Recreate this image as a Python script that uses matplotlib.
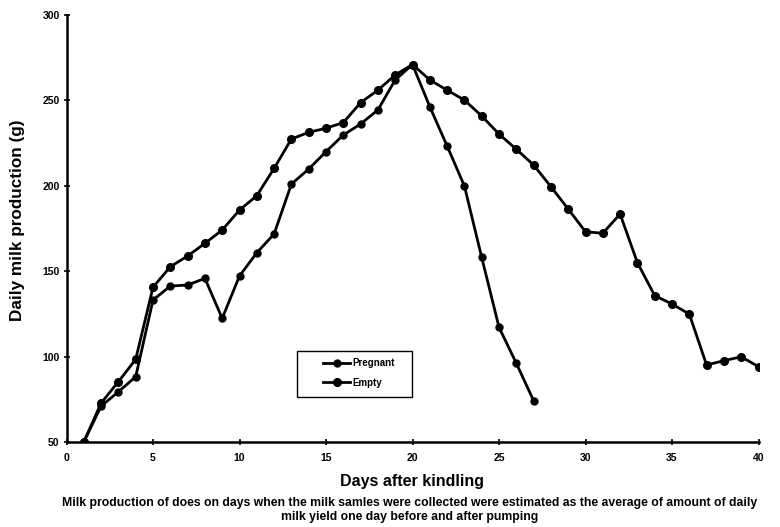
import matplotlib
matplotlib.use("Agg")
import matplotlib.pyplot as plt
from matplotlib.patches import Rectangle

plt.rcParams['font.family'] = ['Liberation Sans', 'DejaVu Sans']

days_pregnant = [1, 2, 3, 4, 5, 6, 7, 8, 9, 10, 11, 12, 13, 14, 15, 16, 17, 18, 19, 20,
                 21, 22, 23, 24, 25, 26, 27]
milk_pregnant = [50, 71, 79.4, 88.2, 133.1, 141.3, 141.9, 145.8, 122.4, 147.2, 160.8, 171.8,
                 201, 209.8, 220, 229.7, 236.2, 244.4, 262, 271,
                 246.3, 223.3, 199.9, 158.1, 117.2, 96.1, 74.2]

days_empty = list(range(1, 41))
milk_empty = [50, 72.8, 85.3, 98.4, 140.6, 152.6, 158.9, 166.3, 174.1, 185.8, 194.2, 210.2,
              227.4, 231.3, 233.7, 237, 248.7, 256, 264.9, 271,
              262, 256, 250.2, 240.9, 230.3, 221.4, 212.2, 199.5, 186.4, 173.1,
              172.2, 183.5, 155, 135.7, 130.8, 124.9, 95.1, 97.6, 99.9, 94.1]

x_ticks = [0, 5, 10, 15, 20, 25, 30, 35, 40]
y_ticks = [50, 100, 150, 200, 250, 300]

W, H = 780, 527
fig = plt.figure(figsize=(W / 100, H / 100), dpi=100)
ax_l, ax_b, ax_w, ax_h = 66.5, 85, 692, 427
ax = fig.add_axes([ax_l / W, ax_b / H, ax_w / W, ax_h / H])

ax.plot(days_pregnant, milk_pregnant, color='black', lw=2, marker='o', ms=5,
        label='Pregnant')
ax.plot(days_empty, milk_empty, color='black', lw=2, marker='o', ms=5.5,
        label='Empty')

ax.set_xlim(0, 40)
ax.set_ylim(50, 300)
ax.set_xticks(x_ticks)
ax.set_yticks(y_ticks)
ax.tick_params(axis='both', direction='inout', length=4, width=1.2,
               labelsize=7.5)
for lab in ax.get_xticklabels() + ax.get_yticklabels():
    lab.set_fontweight('bold')
ax.tick_params(axis='x', pad=6)
ax.tick_params(axis='y', pad=3)

ax.spines['top'].set_visible(False)
ax.spines['right'].set_visible(False)
ax.spines['left'].set_linewidth(1.8)
ax.spines['bottom'].set_linewidth(1.8)

ax.set_ylabel('Daily milk production (g)', fontsize=12.3, fontweight='bold')
ax.yaxis.set_label_coords((25 - ax_l) / ax_w, (442 - 220) / ax_h)
ax.set_xlabel('Days after kindling', fontsize=11.5, fontweight='bold', labelpad=8)


def px2ax(x, y):
    return ((x - ax_l) / ax_w, (H - ax_b - y) / ax_h)


# legend box
x0, y0 = px2ax(297, 397)
x1, y1 = px2ax(412, 351)
ax.add_patch(Rectangle((x0, y0), x1 - x0, y1 - y0, transform=ax.transAxes,
                       fill=False, edgecolor='black', lw=1.0, zorder=4))
lx, ly = px2ax(323, 358)
leg = ax.legend(loc='upper left', bbox_to_anchor=(lx, ly),
                frameon=False, fontsize=7, handlelength=2.8, handletextpad=0.2,
                borderpad=0, labelspacing=1.0, borderaxespad=0)
for t in leg.get_texts():
    t.set_fontweight('bold')

fig.text(410 / W, 1 - 503 / H,
         'Milk production of does on days when the milk samles were collected were estimated as the average of amount of daily',
         ha='center', va='center', fontsize=8.8, fontweight='bold')
fig.text(410 / W, 1 - 517 / H, 'milk yield one day before and after pumping',
         ha='center', va='center', fontsize=8.8, fontweight='bold')

fig.savefig('out.png', dpi=100)
